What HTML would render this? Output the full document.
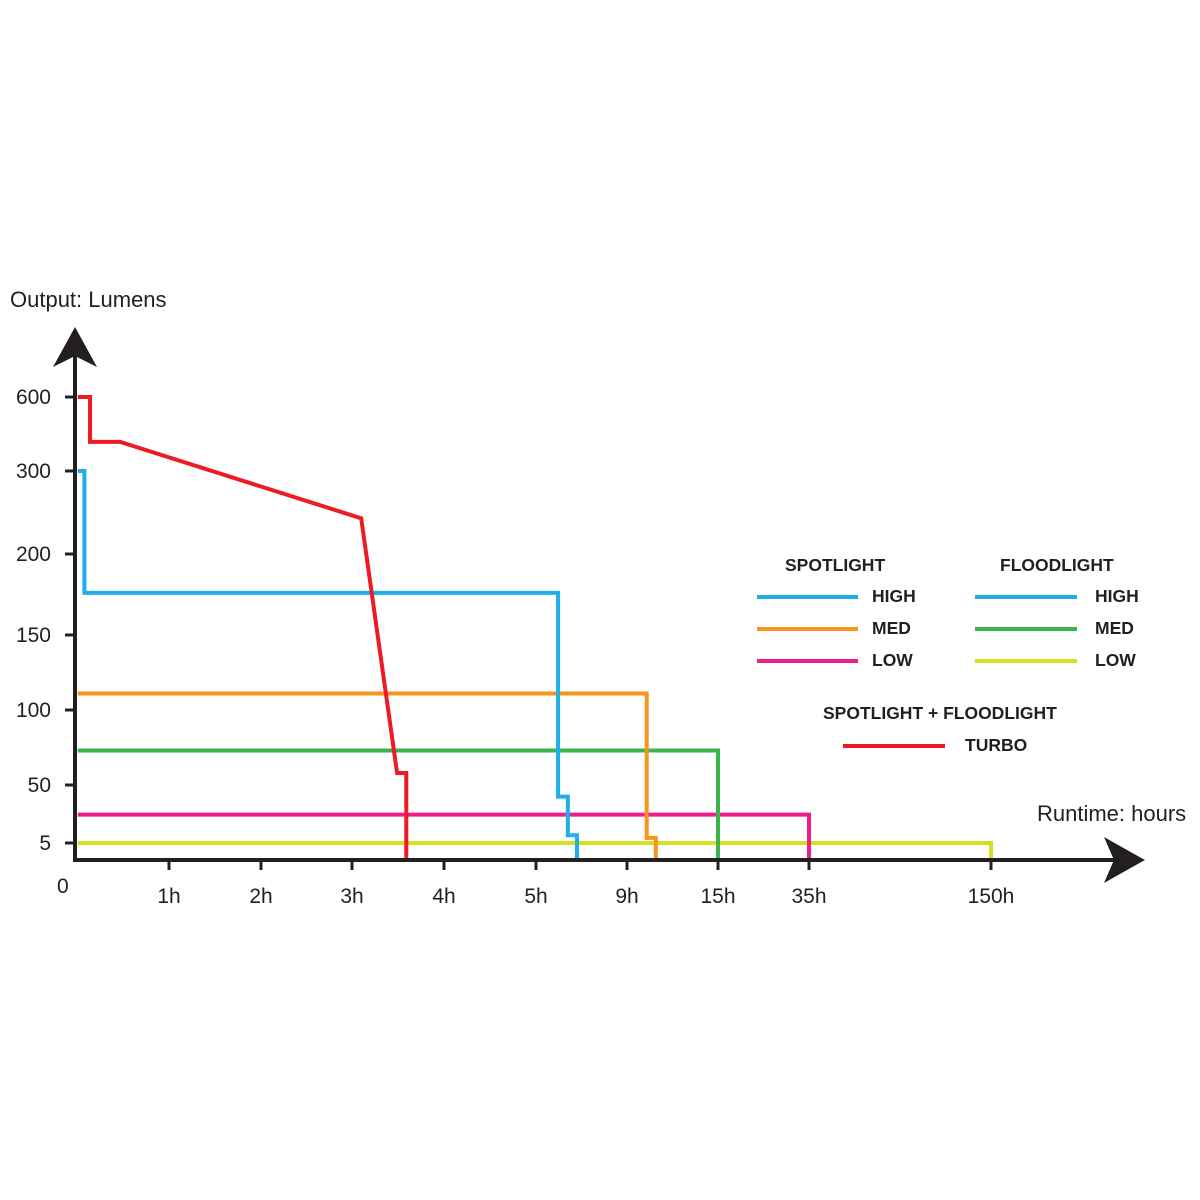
<!DOCTYPE html>
<html><head><meta charset="utf-8"><style>
html,body{margin:0;padding:0;background:#fff;}
svg{display:block;font-family:"Liberation Sans",Arial,sans-serif;}
</style></head><body>
<svg id="chart" width="1200" height="1200" viewBox="0 0 1200 1200">
<g id="series"></g>
<g id="axes">
  <line x1="75" y1="862" x2="75" y2="355" stroke="#231f20" stroke-width="4"/>
  <polygon points="75,327 53,367 75,356 97,367" fill="#231f20"/>
  <line x1="73" y1="860" x2="1115" y2="860" stroke="#231f20" stroke-width="4"/>
  <polygon points="1145,860 1104,837 1114,860 1104,883" fill="#231f20"/>
  <text x="10" y="307" font-size="22" fill="#231f20">Output: Lumens</text>
  <text x="1037" y="821" font-size="22" fill="#231f20">Runtime: hours</text>
  <text x="57" y="893" font-size="21" fill="#231f20">0</text>
</g>
<g id="legend" font-weight="bold" font-size="17.5" fill="#231f20">
  <text x="785" y="571">SPOTLIGHT</text>
  <text x="1000" y="571">FLOODLIGHT</text>
  <line x1="757" y1="597" x2="858" y2="597" stroke="#1eaee8" stroke-width="4"/>
  <text x="872" y="602">HIGH</text>
  <line x1="757" y1="629" x2="858" y2="629" stroke="#f7941d" stroke-width="4"/>
  <text x="872" y="634">MED</text>
  <line x1="757" y1="661" x2="858" y2="661" stroke="#ec1d8c" stroke-width="4"/>
  <text x="872" y="666">LOW</text>
  <line x1="975" y1="597" x2="1077" y2="597" stroke="#1eaee8" stroke-width="4"/>
  <text x="1095" y="602">HIGH</text>
  <line x1="975" y1="629" x2="1077" y2="629" stroke="#3ab54a" stroke-width="4"/>
  <text x="1095" y="634">MED</text>
  <line x1="975" y1="661" x2="1077" y2="661" stroke="#d7df23" stroke-width="4"/>
  <text x="1095" y="666">LOW</text>
  <text x="823" y="719">SPOTLIGHT + FLOODLIGHT</text>
  <line x1="843" y1="746" x2="945" y2="746" stroke="#ed1c24" stroke-width="4"/>
  <text x="965" y="751">TURBO</text>
</g>
</svg>
<script>
// axis tick data
const xTickValues = [0, 1, 2, 3, 4, 5, 9, 15, 35, 150];
const xTickLabels = ["", "1h", "2h", "3h", "4h", "5h", "9h", "15h", "35h", "150h"];
const yTickValues = [0, 5, 50, 100, 150, 200, 300, 600];
const yTickLabels = ["", "5", "50", "100", "150", "200", "300", "600"];
// series data (hours, lumens)
const turboX = [0.03, 0.16, 0.16, 0.48, 3.1, 3.49, 3.59, 3.59];
const turboY = [600, 600, 418, 418, 243, 58, 58, 0];
const spotHighX = [0.03, 0.1, 0.1, 5.97, 5.97, 6.4, 6.4, 6.8, 6.8];
const spotHighY = [300, 300, 176, 176, 41, 41, 11, 11, 0];
const spotMedX = [0.03, 10.3, 10.3, 10.9, 10.9];
const spotMedY = [111, 111, 9, 9, 0];
const spotLowX = [0.03, 35, 35];
const spotLowY = [27, 27, 0];
const floodMedX = [0.03, 15, 15];
const floodMedY = [73, 73, 0];
const floodLowX = [0.03, 150, 150];
const floodLowY = [5, 5, 0];

const xTickPx = [75, 169, 261, 352, 444, 536, 627, 718, 809, 991];
const yTickPx = [860, 843, 785, 710, 635, 554, 471, 397];
function interp(v, vals, px){
  for(let i=0;i<vals.length-1;i++){
    if(v<=vals[i+1]||i===vals.length-2){
      return px[i]+(v-vals[i])/(vals[i+1]-vals[i])*(px[i+1]-px[i]);
    }
  }
}
function xScale(v){return interp(v, xTickValues, xTickPx);}
function yScale(v){return interp(v, yTickValues, yTickPx);}

const NS="http://www.w3.org/2000/svg";
const axes=document.getElementById('axes');
xTickValues.forEach((v,i)=>{
  if(i===0) return;
  const x=xScale(v);
  const t=document.createElementNS(NS,'line');
  t.setAttribute('x1',x);t.setAttribute('x2',x);t.setAttribute('y1',860);t.setAttribute('y2',870);
  t.setAttribute('stroke','#231f20');t.setAttribute('stroke-width','3');
  
  
  axes.appendChild(t);
  const l=document.createElementNS(NS,'text');
  l.setAttribute('x',x);l.setAttribute('y',903);l.setAttribute('text-anchor','middle');
  l.setAttribute('font-size','21');l.setAttribute('fill','#231f20');
  l.textContent=xTickLabels[i];
  
  
  axes.appendChild(l);
});
yTickValues.forEach((v,i)=>{
  if(i===0) return;
  const y=yScale(v);
  const t=document.createElementNS(NS,'line');
  t.setAttribute('x1',65);t.setAttribute('x2',75);t.setAttribute('y1',y);t.setAttribute('y2',y);
  t.setAttribute('stroke','#231f20');t.setAttribute('stroke-width','3');
  
  
  axes.appendChild(t);
  const l=document.createElementNS(NS,'text');
  l.setAttribute('x',51);l.setAttribute('y',y+7);l.setAttribute('text-anchor','end');
  l.setAttribute('font-size','21');l.setAttribute('fill','#231f20');
  l.textContent=yTickLabels[i];
  
  
  axes.appendChild(l);
});

const seriesG=document.getElementById('series');
function drawSeries(xs, ys, color, name){
  const p=document.createElementNS(NS,'polyline');
  p.setAttribute('points', xs.map((x,i)=>xScale(x)+','+yScale(ys[i])).join(' '));
  p.setAttribute('fill','none');p.setAttribute('stroke',color);p.setAttribute('stroke-width','4');
  
  
  seriesG.appendChild(p);
}
drawSeries(floodLowX, floodLowY, '#d7df23', 'floodlight-low-line');
drawSeries(spotLowX, spotLowY, '#ec1d8c', 'spotlight-low-line');
drawSeries(floodMedX, floodMedY, '#3ab54a', 'floodlight-med-line');
drawSeries(spotMedX, spotMedY, '#f7941d', 'spotlight-med-line');
drawSeries(spotHighX, spotHighY, '#1eaee8', 'high-line');
drawSeries(turboX, turboY, '#ed1c24', 'turbo-line');
</script>
</body></html>
